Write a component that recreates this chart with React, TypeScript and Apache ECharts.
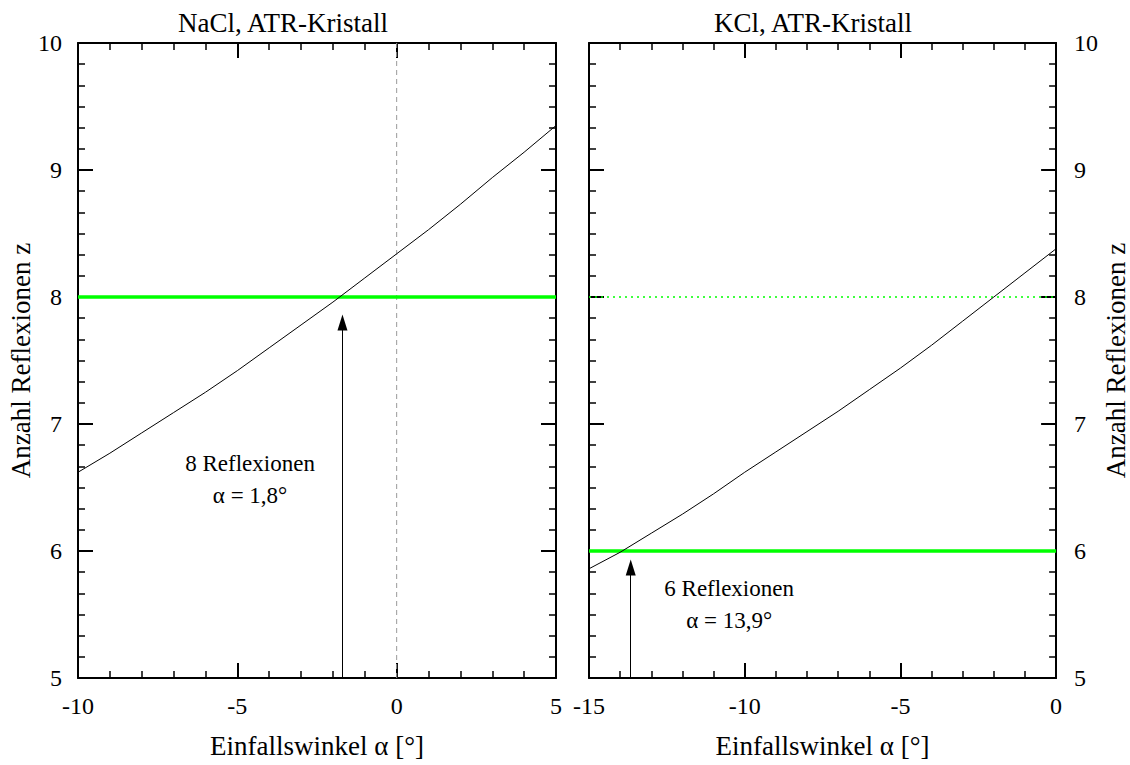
import React, { useEffect, useRef } from "react";
import * as echarts from "echarts";

// ---- data ----
const naclAngles = [-10, -9, -8, -7, -6, -5, -4, -3, -2, -1, 0, 1, 2, 3, 4, 5];
const naclZ = [6.62, 6.77, 6.93, 7.09, 7.25, 7.42, 7.6, 7.78, 7.96, 8.15, 8.34, 8.53, 8.73, 8.94, 9.14, 9.35];
const kclAngles = [-15, -14, -13, -12, -11, -10, -9, -8, -7, -6, -5, -4, -3, -2, -1, 0];
const kclZ = [5.86, 5.99, 6.14, 6.29, 6.45, 6.62, 6.78, 6.94, 7.1, 7.27, 7.44, 7.62, 7.81, 8.0, 8.19, 8.38];

const naclXRange = [-10, 5];
const kclXRange = [-15, 0];
const zRange = [5, 10];
const naclTargetZ = 8;
const kclTargetZ = 6;
const kclDottedZ = 8;
const naclArrow = { angle: -1.7, from: 5, to: 7.8 };
const kclArrow = { angle: -13.66, from: 5, to: 5.87 };
const naclNote = { angle: -4.6, z: 6.56, text: "8 Reflexionen\nα = 1,8°" };
const kclNote = { angle: -10.5, z: 5.58, text: "6 Reflexionen\nα = 13,9°" };

const titles = ["NaCl, ATR-Kristall", "KCl, ATR-Kristall"];
const xName = "Einfallswinkel α [°]";
const yName = "Anzahl Reflexionen z";

const FONT = "Liberation Serif";
const GREEN = "#00ff00";
const NAME_SIZE = 27;

function makeX(grid: number, range: number[], showLabel: boolean, pos: string) {
  return {
    type: "value",
    gridIndex: grid,
    min: range[0],
    max: range[1],
    interval: 5,
    position: pos,
    name: showLabel ? xName : "",
    nameLocation: "middle",
    nameGap: 54,
    nameTextStyle: { fontFamily: FONT, fontSize: NAME_SIZE, color: "#000" },
    axisLine: { show: true, onZero: false, lineStyle: { color: "#000", width: 2 } },
    axisTick: { show: true, inside: true, length: 15, lineStyle: { color: "#000", width: 2 } },
    minorTick: { show: true, splitNumber: 5, length: 7, lineStyle: { color: "#000", width: 1.5 } },
    axisLabel: {
      show: showLabel,
      margin: 16,
      fontFamily: FONT,
      fontSize: 24,
      color: "#000",
    },
    splitLine: { show: false },
    minorSplitLine: { show: false },
  };
}

function makeY(grid: number, showLabel: boolean, pos: string) {
  return {
    type: "value",
    gridIndex: grid,
    min: zRange[0],
    max: zRange[1],
    interval: 1,
    position: pos,
    name: showLabel ? yName : "",
    nameLocation: "middle",
    nameRotate: 90,
    nameGap: pos === "left" ? 39 : 31,
    nameTextStyle: { fontFamily: FONT, fontSize: NAME_SIZE, color: "#000" },
    axisLine: { show: true, onZero: false, lineStyle: { color: "#000", width: 2 } },
    axisTick: { show: true, inside: true, length: 15, lineStyle: { color: "#000", width: 2 } },
    minorTick: { show: true, splitNumber: 6, length: 7, lineStyle: { color: "#000", width: 1.5 } },
    axisLabel: {
      show: showLabel,
      margin: pos === "left" ? 16 : 18,
      fontFamily: FONT,
      fontSize: 24,
      color: "#000",
    },
    splitLine: { show: false },
    minorSplitLine: { show: false },
  };
}

function arrowLine(a: { angle: number; from: number; to: number }) {
  return {
    silent: true,
    symbol: ["none", "triangle"],
    symbolSize: [10, 16],
    lineStyle: { color: "#000", width: 1, type: "solid" },
    label: { show: false },
    data: [[{ coord: [a.angle, a.from] }, { coord: [a.angle, a.to] }]],
  };
}

function note(n: { angle: number; z: number; text: string }) {
  return {
    silent: true,
    symbol: "circle",
    symbolSize: 0,
    label: {
      show: true,
      position: "inside",
      formatter: n.text,
      fontFamily: FONT,
      fontSize: 23,
      lineHeight: 32,
      color: "#000",
      align: "center",
    },
    data: [{ coord: [n.angle, n.z] }],
  };
}

export default function App() {
  const ref = useRef<HTMLDivElement>(null);
  useEffect(() => {
    if (!ref.current) return;
    const chart = echarts.init(ref.current, null, { renderer: "svg" });
    const titleStyle = { fontFamily: FONT, fontSize: NAME_SIZE, fontWeight: "normal", color: "#000" };
    const option: any = {
      animation: false,
      backgroundColor: "#fff",
      textStyle: { fontFamily: FONT },
      title: [
        { text: titles[0], left: 278, top: 4, textAlign: "center", textStyle: titleStyle },
        { text: titles[1], left: 808, top: 4, textAlign: "center", textStyle: titleStyle },
      ],
      grid: [
        { left: 78, top: 43, width: 478, height: 635 },
        { left: 589, top: 43, width: 478, height: 635 },
      ],
      xAxis: [
        makeX(0, naclXRange, true, "bottom"),
        makeX(0, naclXRange, false, "top"),
        makeX(1, kclXRange, true, "bottom"),
        makeX(1, kclXRange, false, "top"),
      ],
      yAxis: [
        makeY(0, true, "left"),
        makeY(0, false, "right"),
        makeY(1, false, "left"),
        makeY(1, true, "right"),
      ],
      series: [
        {
          type: "line",
          xAxisIndex: 0,
          yAxisIndex: 0,
          data: [[0, zRange[0]], [0, zRange[1]]],
          showSymbol: false,
          lineStyle: { color: "#999", width: 1, type: [5, 4] },
          z: 1,
        },
        {
          type: "line",
          xAxisIndex: 0,
          yAxisIndex: 0,
          data: naclXRange.map((x) => [x, naclTargetZ]),
          showSymbol: false,
          lineStyle: { color: GREEN, width: 3.5 },
          z: 2,
          markLine: arrowLine(naclArrow),
          markPoint: note(naclNote),
        },
        {
          type: "line",
          xAxisIndex: 0,
          yAxisIndex: 0,
          data: naclAngles.map((a, i) => [a, naclZ[i]]),
          showSymbol: false,
          lineStyle: { color: "#000", width: 1 },
          z: 3,
        },
        {
          type: "line",
          xAxisIndex: 2,
          yAxisIndex: 2,
          data: kclXRange.map((x) => [x, kclDottedZ]),
          showSymbol: false,
          lineStyle: { color: GREEN, width: 1.5, type: [2, 4] },
          z: 1,
        },
        {
          type: "line",
          xAxisIndex: 2,
          yAxisIndex: 2,
          data: kclXRange.map((x) => [x, kclTargetZ]),
          showSymbol: false,
          lineStyle: { color: GREEN, width: 3.5 },
          z: 2,
          markLine: arrowLine(kclArrow),
          markPoint: note(kclNote),
        },
        {
          type: "line",
          xAxisIndex: 2,
          yAxisIndex: 2,
          data: kclAngles.map((a, i) => [a, kclZ[i]]),
          showSymbol: false,
          lineStyle: { color: "#000", width: 1 },
          z: 3,
        },
      ],
    };
    chart.setOption(option);
    return () => chart.dispose();
  }, []);
  return <div ref={ref} style={{ width: 1130, height: 765, position: "absolute", left: 0, top: 0 }} />;
}
